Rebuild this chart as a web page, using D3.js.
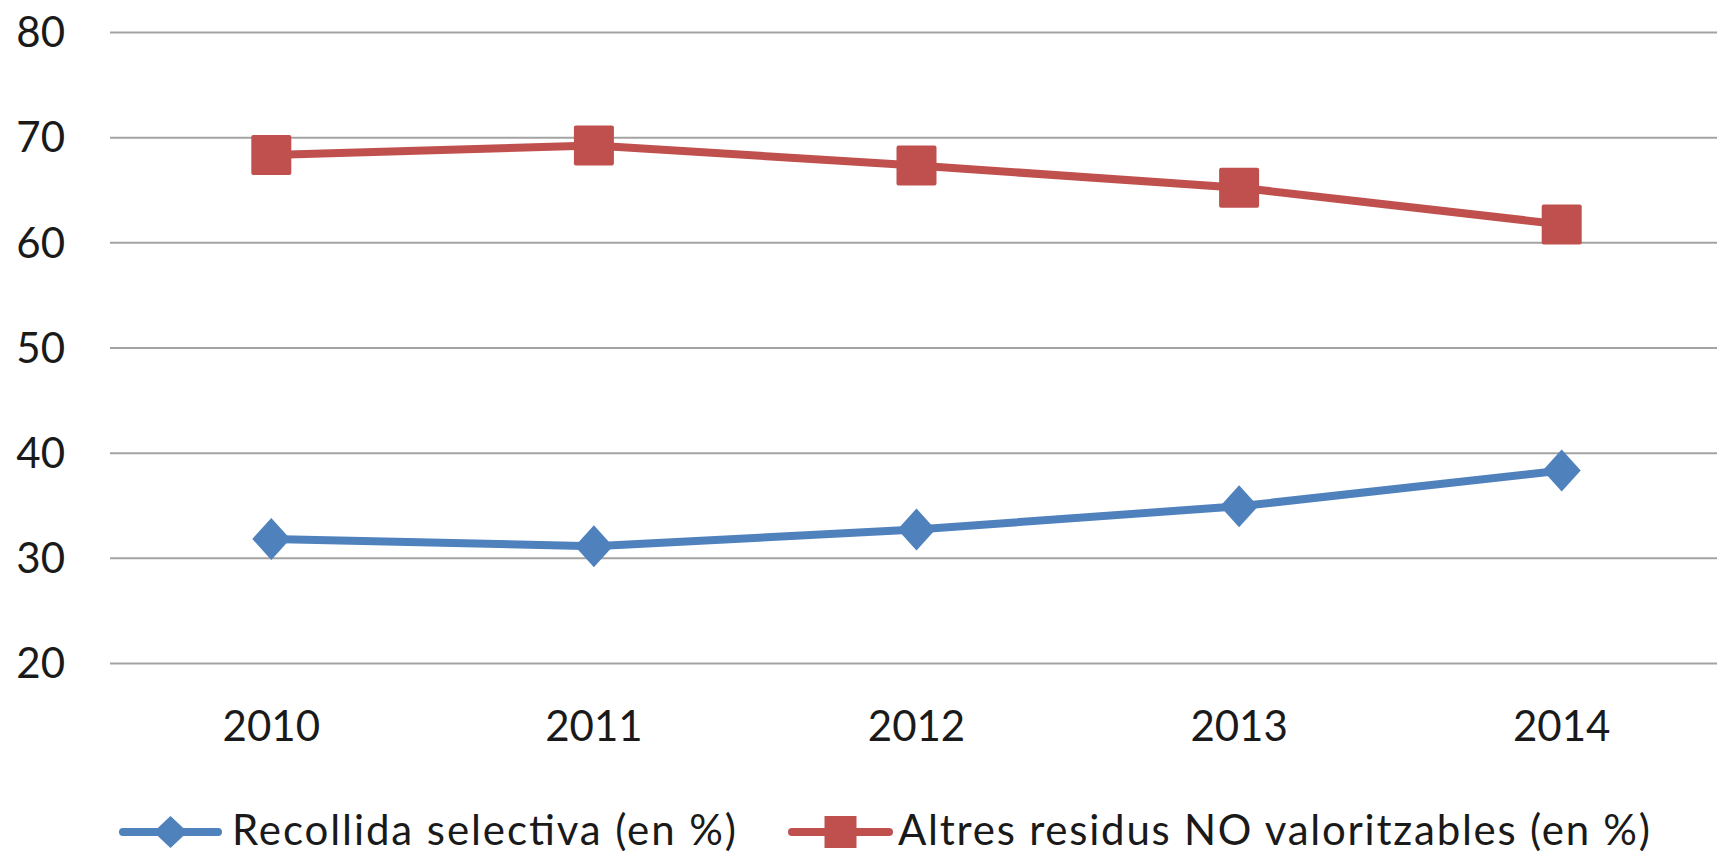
<!DOCTYPE html>
<html>
<head>
<meta charset="utf-8">
<script src="https://cdn.jsdelivr.net/npm/d3@7"></script>
<style>
  html, body { margin: 0; padding: 0; background: #fff; }
  svg { display: block; }
  text { font-family: Lato, "Open Sans", sans-serif; fill: #1a1a1a; }
</style>
</head>
<body>
<svg id="chart" width="1717" height="854"></svg>
<script>
const years = ["2010", "2011", "2012", "2013", "2014"];
const recollida = [31.8, 31.1, 32.7, 34.9, 38.3];
const altres = [68.3, 69.2, 67.3, 65.2, 61.7];
const yTicks = [20, 30, 40, 50, 60, 70, 80];
const seriesNames = ["Recollida selectiva (en %)", "Altres residus NO valoritzables (en %)"];
const colors = ["#4F81BD", "#C0504D"];

const svg = d3.select("#chart");
const fontSize = 42;

const x = d3.scaleBand().domain(years).range([110, 1723]);
const y = d3.scaleLinear().domain([20, 80]).range([663, 32]);

// gridlines
const yAxis = d3.axisLeft(y).tickValues(yTicks).tickSize(-(1717 - 110)).tickPadding(45);
const gy = svg.append("g").attr("transform", "translate(110,0)").call(yAxis);
gy.select(".domain").remove();
gy.selectAll(".tick line").attr("stroke", "#a3a3a3").attr("stroke-width", 2);
gy.selectAll(".tick text").attr("font-size", fontSize).attr("font-family", "Lato").attr("fill", "#1a1a1a").attr("dy", "0.35em");

// x axis labels
const xAxis = d3.axisBottom(x).tickSize(0).tickPadding(0);
const gx = svg.append("g").attr("transform", "translate(0,663)").call(xAxis);
gx.select(".domain").remove();
gx.selectAll(".tick text").attr("font-size", fontSize).attr("font-family", "Lato").attr("fill", "#1a1a1a").attr("dy", null).attr("y", 78);

const cx = d => x(d) + x.bandwidth() / 2;
const data = [recollida, altres];

data.forEach((vals, si) => {
  const pts = years.map((yr, i) => [cx(yr), y(vals[i])]);
  svg.append("path")
    .attr("d", d3.line()(pts))
    .attr("fill", "none")
    .attr("stroke", colors[si])
    .attr("stroke-width", 8)
    .attr("stroke-linejoin", "round")
    .attr("stroke-linecap", "round");
  const g = svg.append("g");
  pts.forEach(p => {
    if (si === 0) {
      g.append("path")
        .attr("d", `M${p[0]},${p[1]-21} L${p[0]+19},${p[1]} L${p[0]},${p[1]+21} L${p[0]-19},${p[1]} Z`)
        .attr("fill", colors[si]);
    } else {
      g.append("rect")
        .attr("x", p[0] - 20).attr("y", p[1] - 20)
        .attr("width", 40).attr("height", 40)
        .attr("rx", 2)
        .attr("fill", colors[si]);
    }
  });
});

// legend
const legendY = 832;
const legendItems = [
  { x0: 119, x1: 222, tx: 232, w: 504 },
  { x0: 788, x1: 893, tx: 898, w: 752 }
];
legendItems.forEach((it, si) => {
  const g = svg.append("g");
  g.append("line")
    .attr("x1", it.x0 + 4).attr("x2", it.x1 - 4)
    .attr("y1", legendY).attr("y2", legendY)
    .attr("stroke", colors[si]).attr("stroke-width", 8).attr("stroke-linecap", "round");
  const mx = (it.x0 + it.x1) / 2;
  if (si === 0) {
    g.append("path")
      .attr("d", `M${mx},${legendY-16} L${mx+17},${legendY} L${mx},${legendY+16} L${mx-17},${legendY} Z`)
      .attr("fill", colors[si]);
  } else {
    g.append("rect")
      .attr("x", mx - 16).attr("y", legendY - 16)
      .attr("width", 32).attr("height", 32)
      .attr("fill", colors[si]);
  }
  g.append("text")
    .attr("x", it.tx).attr("y", 845)
    .attr("font-size", fontSize)
    .attr("textLength", it.w)
    .attr("lengthAdjust", "spacing")
    .text(seriesNames[si]);
});
</script>
</body>
</html>
